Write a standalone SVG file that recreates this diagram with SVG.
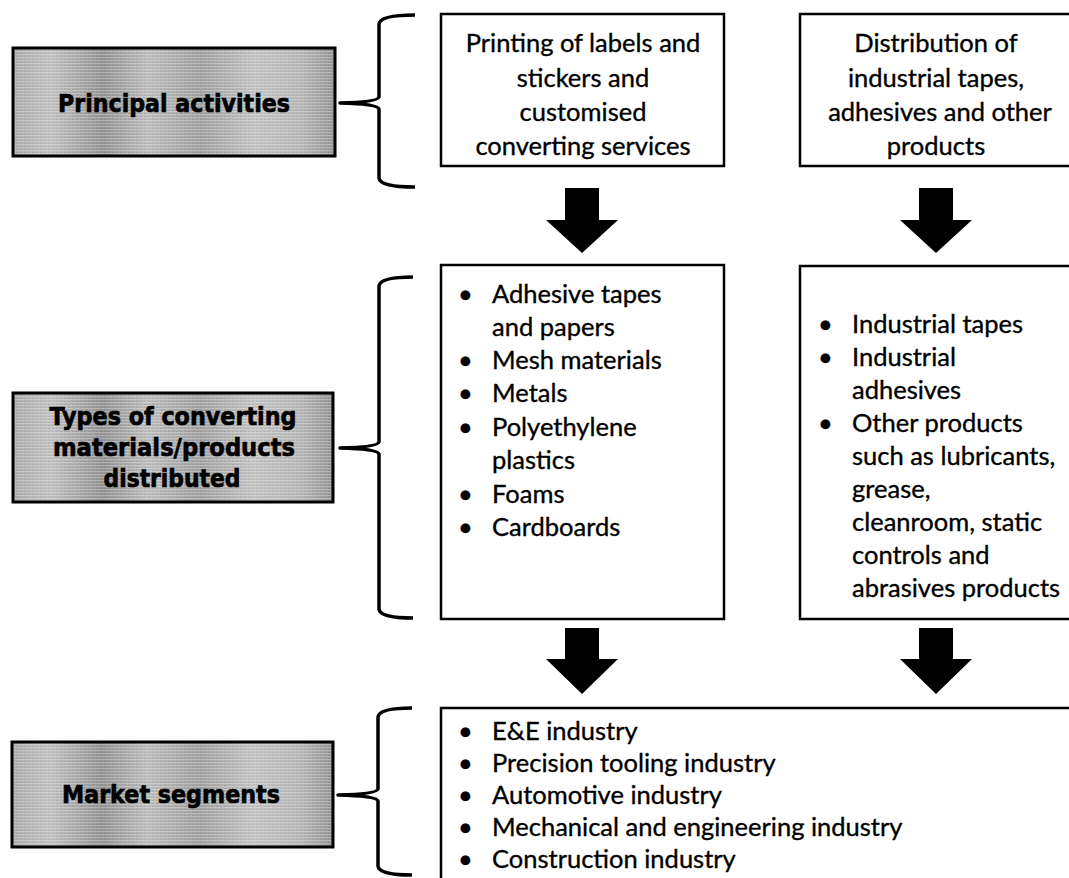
<svg xmlns="http://www.w3.org/2000/svg" width="1069" height="878" viewBox="0 0 1069 878">
  <style>
    .label-box { fill: url(#greyFill); stroke: #000; stroke-width: 3; }
    .label-tex { fill: url(#scan); }
    .label-text { font-family: "DejaVu Sans", "Liberation Sans", sans-serif; font-weight: bold; font-size: 25px; fill: #000; stroke: #000; stroke-width: 0.7; text-anchor: middle; }
    .box { fill: #fff; stroke: #000; stroke-width: 2.5; }
    .box-text { font-family: Lato, "Open Sans", sans-serif; font-size: 25.5px; fill: #000; stroke: #000; stroke-width: 0.35; }
    .center { text-anchor: middle; }
    .brace { fill: none; stroke: #000; stroke-width: 3.5; stroke-linejoin: round; stroke-linecap: butt; }
    .arrow { fill: #000; }
  </style>
  <defs>
    <linearGradient id="greyFill" x1="0" y1="0" x2="1" y2="0">
      <stop offset="0" stop-color="#aeaeae"/>
      <stop offset="0.12" stop-color="#c2c2c2"/>
      <stop offset="0.28" stop-color="#959595"/>
      <stop offset="0.42" stop-color="#bebebe"/>
      <stop offset="0.58" stop-color="#a2a2a2"/>
      <stop offset="0.75" stop-color="#c4c4c4"/>
      <stop offset="0.9" stop-color="#b8b8b8"/>
      <stop offset="1" stop-color="#969696"/>
    </linearGradient>
    <!-- fine horizontal screen lines over the grey fill -->
    <pattern id="scan" width="4" height="3" patternUnits="userSpaceOnUse">
      <rect width="4" height="1" fill="#ffffff" fill-opacity="0.25"/>
      <rect y="2" width="2" height="1" fill="#000000" fill-opacity="0.08"/>
    </pattern>
  </defs>

  <!-- row labels -->
  <g id="label-principal">
    <rect class="label-box" x="13" y="48" width="322" height="108"/>
    <rect class="label-tex" x="15" y="50" width="318" height="104"/>
    <text class="label-text" x="174" y="112" textLength="232" lengthAdjust="spacingAndGlyphs">Principal activities</text>
  </g>
  <g id="label-types">
    <rect class="label-box" x="13" y="393" width="320" height="109"/>
    <rect class="label-tex" x="15" y="395" width="316" height="105"/>
    <text class="label-text" x="173" y="425" textLength="247" lengthAdjust="spacingAndGlyphs">Types of converting</text>
    <text class="label-text" x="174" y="456" textLength="242" lengthAdjust="spacingAndGlyphs">materials/products</text>
    <text class="label-text" x="172" y="487" textLength="137" lengthAdjust="spacingAndGlyphs">distributed</text>
  </g>
  <g id="label-market">
    <rect class="label-box" x="12" y="742" width="321" height="105"/>
    <rect class="label-tex" x="14" y="744" width="317" height="101"/>
    <text class="label-text" x="171" y="803" textLength="218" lengthAdjust="spacingAndGlyphs">Market segments</text>
  </g>

  <!-- activity boxes -->
  <g id="box-printing">
    <rect class="box" x="441" y="14" width="283" height="152"/>
    <text class="box-text center" x="583" y="52">Printing of labels and</text>
    <text class="box-text center" x="583" y="87">stickers and</text>
    <text class="box-text center" x="583" y="121">customised</text>
    <text class="box-text center" x="583" y="155">converting services</text>
  </g>
  <g id="box-distribution">
    <rect class="box" x="800" y="14" width="280" height="152"/>
    <text class="box-text center" x="936" y="52">Distribution of</text>
    <text class="box-text center" x="936" y="87">industrial tapes,</text>
    <text class="box-text center" x="940" y="121">adhesives and other</text>
    <text class="box-text center" x="936" y="155">products</text>
  </g>

  <!-- materials boxes -->
  <g id="box-materials">
    <rect class="box" x="441" y="265" width="283" height="354"/>
    <g class="box-text">
      <text x="458" y="303">•</text><text x="492" y="303">Adhesive tapes</text>
      <text x="492" y="336">and papers</text>
      <text x="458" y="369">•</text><text x="492" y="369">Mesh materials</text>
      <text x="458" y="402">•</text><text x="492" y="402">Metals</text>
      <text x="458" y="436">•</text><text x="492" y="436">Polyethylene</text>
      <text x="492" y="469">plastics</text>
      <text x="458" y="503">•</text><text x="492" y="503">Foams</text>
      <text x="458" y="536">•</text><text x="492" y="536">Cardboards</text>
    </g>
  </g>
  <g id="box-products">
    <rect class="box" x="800" y="266" width="280" height="353"/>
    <g class="box-text">
      <text x="818" y="333">•</text><text x="852" y="333">Industrial tapes</text>
      <text x="818" y="366">•</text><text x="852" y="366">Industrial</text>
      <text x="852" y="399">adhesives</text>
      <text x="818" y="432">•</text><text x="852" y="432">Other products</text>
      <text x="852" y="465">such as lubricants,</text>
      <text x="852" y="498">grease,</text>
      <text x="852" y="531">cleanroom, static</text>
      <text x="852" y="564">controls and</text>
      <text x="852" y="597">abrasives products</text>
    </g>
  </g>

  <!-- market segments box -->
  <g id="box-markets">
    <rect class="box" x="441" y="708" width="640" height="190"/>
    <g class="box-text">
      <text x="458" y="740">•</text><text x="492" y="740">E&amp;E industry</text>
      <text x="458" y="772">•</text><text x="492" y="772">Precision tooling industry</text>
      <text x="458" y="804">•</text><text x="492" y="804">Automotive industry</text>
      <text x="458" y="836">•</text><text x="492" y="836">Mechanical and engineering industry</text>
      <text x="458" y="868">•</text><text x="492" y="868">Construction industry</text>
    </g>
  </g>

  <!-- braces and flow arrows -->
  <g id="connectors">
    <path class="brace" d="M415 15 Q380 15 379 24 L379 97 Q378 102 340 103 Q378 104 379 109 L379 178 Q380 187 415 187"/>
    <path class="brace" d="M413 277 Q380 277 379 286 L379 442 Q378 447 340 448 Q378 449 379 454 L379 609 Q380 618 413 618"/>
    <path class="brace" d="M412 708 Q379 708 378 717 L378 789 Q377 794 338 795 Q377 796 378 801 L378 866 Q379 875 412 875"/>

    <polygon class="arrow" points="565,188 599,188 599,220 618,220 582,253 546,220 565,220"/>
    <polygon class="arrow" points="919,188 953,188 953,220 972,220 936,253 900,220 919,220"/>
    <polygon class="arrow" points="565,628 599,628 599,659 618,659 582,694 546,659 565,659"/>
    <polygon class="arrow" points="919,628 953,628 953,659 972,659 936,694 900,659 919,659"/>
  </g>
</svg>
